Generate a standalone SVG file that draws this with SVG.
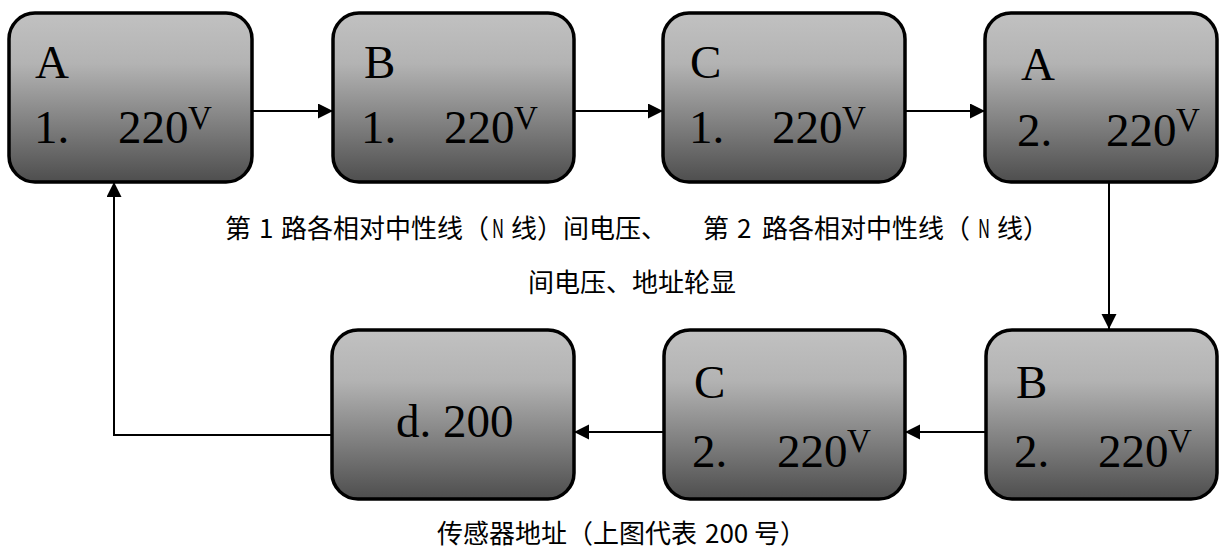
<svg xmlns="http://www.w3.org/2000/svg" width="1219" height="555" viewBox="0 0 1219 555">
  <defs>
    <linearGradient id="g" x1="0" y1="0" x2="0" y2="1">
      <stop offset="0" stop-color="#c1c1c1"/>
      <stop offset="0.3" stop-color="#b3b3b3"/>
      <stop offset="1" stop-color="#4e4e4e"/>
    </linearGradient>
    <marker id="arr" markerUnits="userSpaceOnUse" markerWidth="16" markerHeight="16" refX="15" refY="7.5" orient="auto">
      <path d="M0,0 L15,7.5 L0,15 Z" fill="#000"/>
    </marker>
  </defs>
  <style>
    .box { fill: url(#g); stroke: #000; stroke-width: 3.5; }
    .lt { font-family: "Liberation Serif", "Times New Roman", serif; font-size: 47px; fill: #000; }
    .sup { font-family: "Liberation Serif", "Times New Roman", serif; font-size: 33px; fill: #000; }
    .cap { font-family: "Noto Sans CJK SC", "Noto Sans", sans-serif; font-size: 26px; fill: #000; }
    .conn { fill: none; stroke: #000; stroke-width: 2; }
  </style>

  <g id="node-A1">
    <rect class="box" x="9" y="13" width="243" height="169" rx="26" ry="26"/>
    <text class="lt" x="35" y="78" font-size="44">A</text>
    <text class="lt" x="34" y="143">1.</text>
    <text class="lt" x="118" y="143">220</text>
    <text class="sup" x="188" y="129">V</text>
  </g>
  <g id="node-B1">
    <rect class="box" x="333" y="13" width="241" height="169" rx="26" ry="26"/>
    <text class="lt" x="364" y="78" font-size="44">B</text>
    <text class="lt" x="361" y="143">1.</text>
    <text class="lt" x="444" y="143">220</text>
    <text class="sup" x="514" y="129">V</text>
  </g>
  <g id="node-C1">
    <rect class="box" x="663" y="13" width="242" height="169" rx="26" ry="26"/>
    <text class="lt" x="690" y="78" font-size="44">C</text>
    <text class="lt" x="689" y="143">1.</text>
    <text class="lt" x="772" y="143">220</text>
    <text class="sup" x="842" y="129">V</text>
  </g>
  <g id="node-A2">
    <rect class="box" x="985" y="13" width="232" height="169" rx="26" ry="26"/>
    <text class="lt" x="1021" y="80" font-size="44">A</text>
    <text class="lt" x="1017" y="146">2.</text>
    <text class="lt" x="1106" y="146">220</text>
    <text class="sup" x="1176" y="131">V</text>
  </g>
  <g id="node-B2">
    <rect class="box" x="986" y="330" width="231" height="169" rx="26" ry="26"/>
    <text class="lt" x="1016" y="398">B</text>
    <text class="lt" x="1014" y="467">2.</text>
    <text class="lt" x="1098" y="467">220</text>
    <text class="sup" x="1168" y="452">V</text>
  </g>
  <g id="node-C2">
    <rect class="box" x="664" y="330" width="241" height="169" rx="26" ry="26"/>
    <text class="lt" x="694" y="398">C</text>
    <text class="lt" x="692" y="467">2.</text>
    <text class="lt" x="777" y="467">220</text>
    <text class="sup" x="847" y="452">V</text>
  </g>
  <g id="node-d">
    <rect class="box" x="332" y="330" width="242" height="169" rx="26" ry="26"/>
    <text class="lt" x="396" y="437" font-size="48">d. 200</text>
  </g>

  <g id="connectors">
    <line class="conn" x1="252" y1="111" x2="333" y2="111" marker-end="url(#arr)"/>
    <line class="conn" x1="574" y1="111" x2="663" y2="111" marker-end="url(#arr)"/>
    <line class="conn" x1="905" y1="111" x2="985" y2="111" marker-end="url(#arr)"/>
    <line class="conn" x1="1109" y1="182" x2="1109" y2="329" marker-end="url(#arr)"/>
    <line class="conn" x1="986" y1="432" x2="905" y2="432" marker-end="url(#arr)"/>
    <line class="conn" x1="664" y1="432" x2="574" y2="432" marker-end="url(#arr)"/>
    <polyline class="conn" points="332,435 114,435 114,182" marker-end="url(#arr)"/>
  </g>

  <g id="captions">
    <text class="cap" y="238"><tspan x="225">第</tspan><tspan x="259">1</tspan><tspan x="281">路各相对中性线（</tspan><tspan x="492" textLength="12" lengthAdjust="spacingAndGlyphs">N</tspan><tspan x="511">线）间电压、</tspan><tspan x="703">第</tspan><tspan x="737">2</tspan><tspan x="762">路各相对中性线（</tspan><tspan x="978" textLength="12" lengthAdjust="spacingAndGlyphs">N</tspan><tspan x="997">线）</tspan></text>
    <text class="cap" x="528" y="292">间电压、地址轮显</text>
    <text class="cap" y="543"><tspan x="437">传感器地址（上图代表</tspan><tspan x="705">200</tspan><tspan x="754">号）</tspan></text>
  </g>
</svg>
